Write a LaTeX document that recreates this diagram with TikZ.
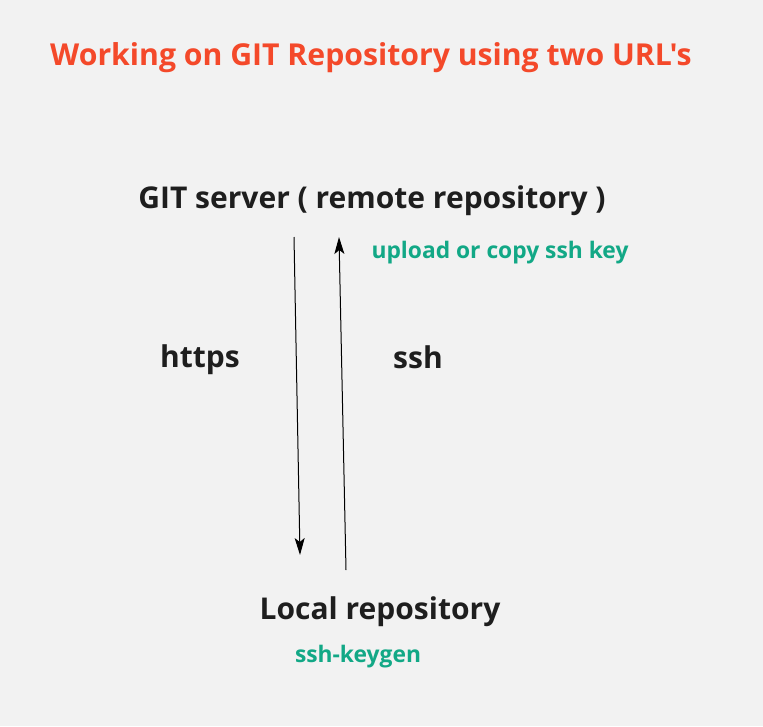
\documentclass[tikz,border=0pt]{standalone}
\usepackage{fontspec}
\setmainfont{Open Sans}[Ligatures=TeXOff]
\usetikzlibrary{arrows.meta}
\definecolor{bg}{HTML}{F2F2F2}
\definecolor{titlecol}{HTML}{F4492A}
\definecolor{greencol}{HTML}{12A886}
\definecolor{dark}{HTML}{1E1E1E}
\begin{document}
\begin{tikzpicture}[x=1pt,y=-1pt,
  every node/.style={inner sep=0pt,anchor=center,font=\bfseries},
  titletxt/.style={text=titlecol,font=\bfseries\fontsize{30.2}{36}\selectfont},
  maintxt/.style={text=dark,font=\bfseries\fontsize{30}{36}\selectfont},
  greentxt/.style={text=greencol,font=\bfseries\fontsize{22.8}{27}\selectfont},
  conn/.style={draw=black,line width=1pt,-{Stealth[length=17pt,width=10pt,inset=4pt]}}]
\fill[bg] (0,0) rectangle (763,726);
\useasboundingbox (0,0) rectangle (763,726);
\node[titletxt] (title) at (371,58) {Working on GIT Repository using two URL's};
\node[maintxt] (server) at (372,201) {GIT server ( remote repository )};
\node[greentxt] (upload) at (500,253) {upload or copy ssh key};
\node[maintxt] (https) at (200,360) {https};
\node[maintxt] (ssh) at (418,357) {ssh};
\node[maintxt] (local) at (380,612) {Local repository};
\node[greentxt] (keygen) at (358,657) {ssh-keygen};
\coordinate (a1s) at (294,237);
\coordinate (a1e) at (300,555);
\coordinate (a2s) at (346,570);
\coordinate (a2e) at (339,237);
\draw[conn] (a1s) -- (a1e);
\draw[conn] (a2s) -- (a2e);
\end{tikzpicture}
\end{document}
